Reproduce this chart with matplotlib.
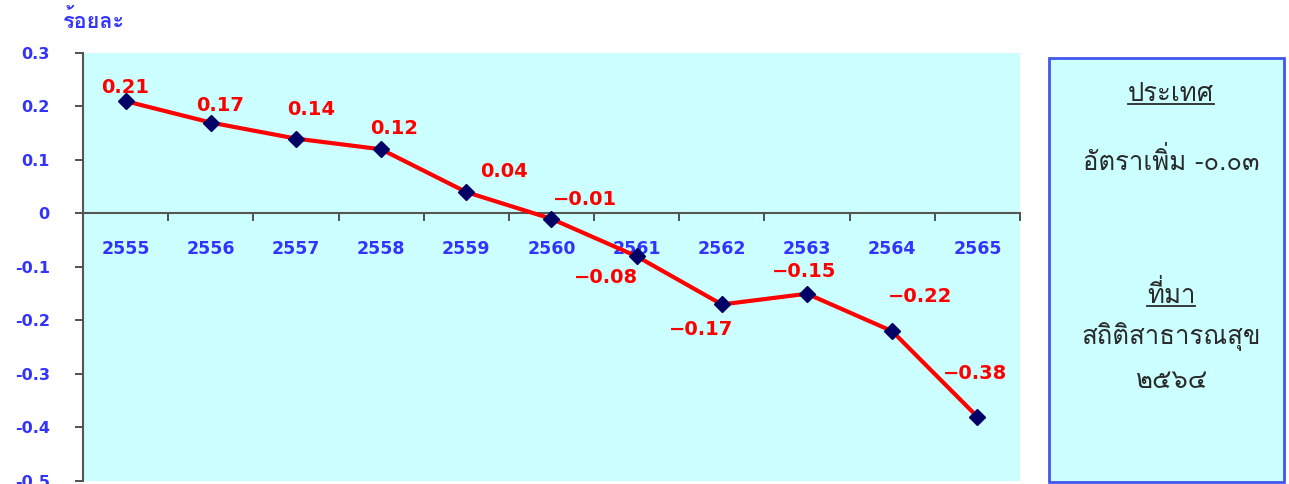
import matplotlib
matplotlib.use('Agg')
import matplotlib.pyplot as plt
from matplotlib.patches import Rectangle
from matplotlib.lines import Line2D

# data
years = ['2555', '2556', '2557', '2558', '2559', '2560', '2561', '2562', '2563', '2564', '2565']
rates = [0.21, 0.17, 0.14, 0.12, 0.04, -0.01, -0.08, -0.17, -0.15, -0.22, -0.38]
label_text = ['0.21', '0.17', '0.14', '0.12', '0.04', '\u22120.01', '\u22120.08', '\u22120.17',
              '\u22120.15', '\u22120.22', '\u22120.38']
# label offsets (points) from each marker
label_off = [(0, 10), (7, 12), (11, 21), (9, 15), (27, 15), (24, 14),
             (-22, -15), (-15, -18), (-2, 16), (20, 25), (-2, 31)]
yticks = [-0.5, -0.4, -0.3, -0.2, -0.1, 0, 0.1, 0.2, 0.3]
ytick_labels = ['-0.5', '-0.4', '-0.3', '-0.2', '-0.1', '0', '0.1', '0.2', '0.3']

thai = ['Loma', 'DejaVu Sans']
blue = '#3333ff'
bg = '#ccffff'

fig = plt.figure(figsize=(12.89, 4.84), dpi=100)
ax = fig.add_axes([0.0644, 0.0062, 0.7269, 0.8843])
ax.set_facecolor(bg)

x = list(range(len(years)))
ax.plot(x, rates, color='red', lw=3, zorder=3)
ax.plot(x, rates, ls='none', marker='D', ms=8, color='#000066', zorder=4)

for i in range(len(x)):
    ax.annotate(label_text[i], (x[i], rates[i]), xytext=label_off[i], textcoords='offset points',
                ha='center', va='center', color='red', fontsize=14, fontweight='bold')

ax.set_xlim(-0.5, len(years) - 0.5)
ax.set_ylim(-0.5, 0.3)

# spines
for s in ['top', 'right']:
    ax.spines[s].set_visible(False)
ax.spines['bottom'].set_position(('data', 0))
ax.spines['bottom'].set_color('#555555')
ax.spines['bottom'].set_linewidth(1.5)
ax.spines['left'].set_color('#555555')
ax.spines['left'].set_linewidth(1.5)

# x ticks: marks between categories, labels at categories
ax.set_xticks([i - 0.5 for i in range(len(years) + 1)])
ax.set_xticklabels([])
ax.tick_params(axis='x', which='major', direction='out', length=6, width=1.2, color='#333333')
ax.set_xticks(x, minor=True)
ax.set_xticklabels(years, minor=True)
ax.tick_params(axis='x', which='minor', length=0, pad=19, labelsize=12.5, labelcolor=blue)
for t in ax.get_xticklabels(minor=True):
    t.set_fontweight('bold')

ax.set_yticks(yticks)
ax.set_yticklabels(ytick_labels)
ax.tick_params(axis='y', direction='out', length=6, width=1.2, color='#333333',
               pad=18, labelsize=11.5, labelcolor=blue)
for t in ax.get_yticklabels():
    t.set_fontweight('bold')

fig.text(0.049, 0.957, 'ร้อยละ', family=thai, fontsize=15.5, fontweight='bold',
         color=blue, ha='left', va='center')

# info box on the right
box = Rectangle((0.8138, 0.004), 0.1823, 0.876, transform=fig.transFigure,
                facecolor=bg, edgecolor='#4455ee', lw=2)
fig.patches.append(box)

cx = 0.9085
box_lines = [
    ('ประเทศ', 0.805, True),
    ('อัตราเพิ่ม -๐.๐๓', 0.668, False),
    ('ที่มา', 0.392, True),
    ('สถิติสาธารณสุข', 0.305, False),
    ('๒๕๖๔', 0.212, False),
]
texts = []
for s, y, ul in box_lines:
    t = fig.text(cx, y, s, family=thai, fontsize=18.5, color='#2a2a2a', ha='center', va='center')
    texts.append((t, ul))

fig.canvas.draw()
r = fig.canvas.get_renderer()
inv = fig.transFigure.inverted()
for t, ul in texts:
    if ul:
        bb = t.get_window_extent(r).transformed(inv)
        fig.lines.append(Line2D([bb.x0, bb.x1], [bb.y0 + 0.004, bb.y0 + 0.004],
                                transform=fig.transFigure, color='#2a2a2a', lw=1.3))

fig.savefig('out.png', dpi=100)
